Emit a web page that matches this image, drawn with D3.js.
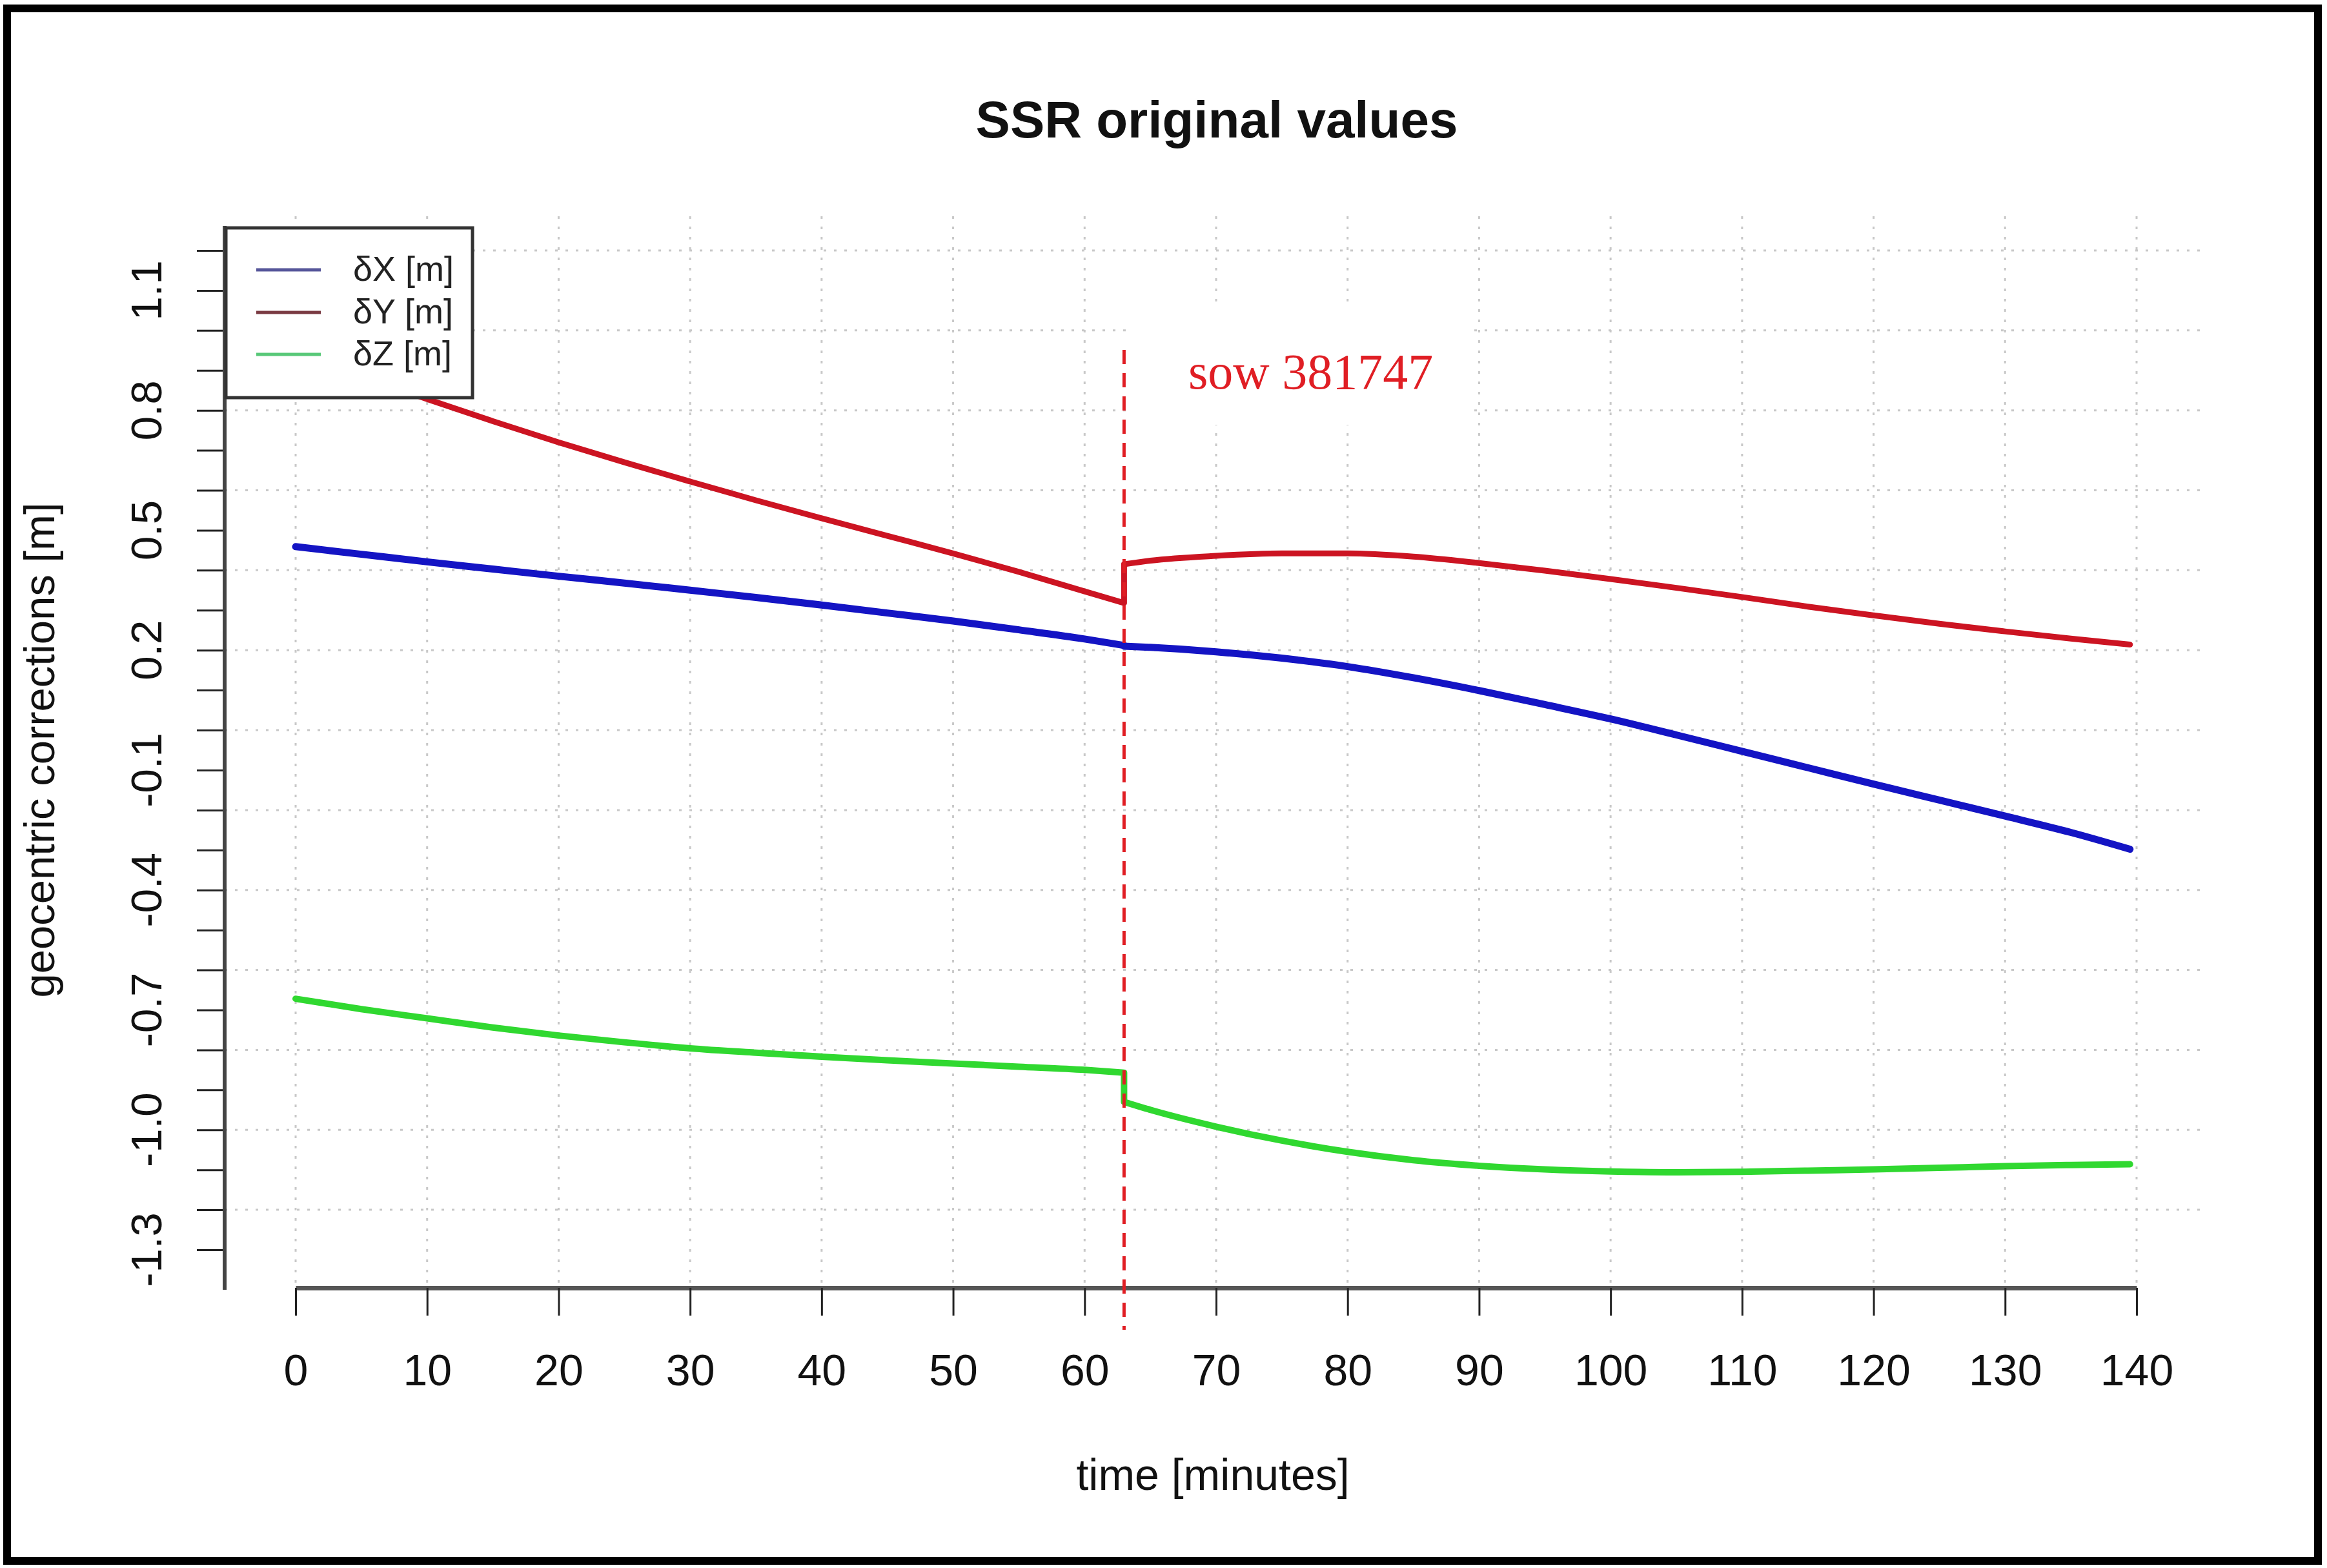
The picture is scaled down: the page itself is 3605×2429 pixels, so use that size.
<!DOCTYPE html>
<html>
<head>
<meta charset="utf-8">
<script src="https://cdn.jsdelivr.net/npm/d3@7"></script>
<style>
  html, body { margin: 0; padding: 0; background: #ffffff; }
  svg { display: block; }
</style>
</head>
<body>
<div id="chart"></div>
<script>
// ---------------- data ----------------
const chartTitle = "SSR original values";
const xTitle = "time [minutes]";
const yTitle = "geocentric corrections [m]";
const seriesNames = ["δX [m]", "δY [m]", "δZ [m]"];
const seriesColors = ["#1414c4", "#cc1422", "#30d830"];
const legendColors = ["#56569a", "#7a3a42", "#58c878"];

// before the jump (minutes 0 .. 63)
const minutesPre = [0, 5, 10, 15, 20, 25, 30, 35, 40, 45, 50, 55, 60, 63];
const dXPre = [0.459, 0.440, 0.421, 0.403, 0.385, 0.368, 0.350, 0.332, 0.313, 0.293, 0.273, 0.251, 0.228, 0.212];
const dYPre = [0.945, 0.886, 0.828, 0.773, 0.720, 0.670, 0.622, 0.575, 0.530, 0.486, 0.442, 0.396, 0.347, 0.318];
const dZPre = [-0.672, -0.698, -0.721, -0.744, -0.764, -0.781, -0.796, -0.807, -0.817, -0.826, -0.834, -0.842, -0.850, -0.857];

// after the jump (minutes 63 .. 139.5)
const minutesPost = [63, 65, 70, 75, 80, 85, 90, 95, 100, 105, 110, 115, 120, 125, 130, 135, 139.5];
const dXPost = [0.210, 0.207, 0.196, 0.180, 0.159, 0.131, 0.099, 0.064, 0.028, -0.012, -0.053, -0.094, -0.135, -0.175, -0.215, -0.256, -0.298];
const dYPost = [0.415, 0.424, 0.436, 0.442, 0.442, 0.434, 0.418, 0.399, 0.378, 0.356, 0.333, 0.309, 0.287, 0.266, 0.247, 0.229, 0.214];
const dZPost = [-0.930, -0.950, -0.992, -1.027, -1.055, -1.076, -1.090, -1.099, -1.104, -1.106, -1.105, -1.102, -1.099, -1.095, -1.091, -1.088, -1.086];

const xTickValues = [0, 10, 20, 30, 40, 50, 60, 70, 80, 90, 100, 110, 120, 130, 140];
const yMinorTicks = [1.2, 1.1, 1.0, 0.9, 0.8, 0.7, 0.6, 0.5, 0.4, 0.3, 0.2, 0.1, 0.0, -0.1, -0.2, -0.3, -0.4, -0.5, -0.6, -0.7, -0.8, -0.9, -1.0, -1.1, -1.2, -1.3];
const yLabelValues = [1.1, 0.8, 0.5, 0.2, -0.1, -0.4, -0.7, -1.0, -1.3];
const xGridValues = [0, 10, 20, 30, 40, 50, 60, 70, 80, 90, 100, 110, 120, 130, 140];
const yGridValues = [1.2, 1.0, 0.8, 0.6, 0.4, 0.2, 0.0, -0.2, -0.4, -0.6, -0.8, -1.0, -1.2];

const eventMinute = 63;
const eventLabel = "sow 381747";

// ---------------- layout ----------------
const W = 3605, H = 2429;
const FONT = "'Liberation Sans', Arial, Helvetica, sans-serif";
const plotLeft = 348, plotRight = 3418, plotTop = 335, plotBottom = 1995;

const svg = d3.select("#chart").append("svg")
  .attr("width", W).attr("height", H)
  .attr("viewBox", `0 0 ${W} ${H}`);

svg.append("rect").attr("x", 0).attr("y", 0).attr("width", W).attr("height", H).attr("fill", "#ffffff");

const x = d3.scaleLinear().domain([0, 140]).range([458, 3310]);
const y = d3.scaleLinear().domain([-1.3, 1.2]).range([1936, 388]);

// outer frame
svg.append("rect")
  .attr("x", 11).attr("y", 13).attr("width", 3580).attr("height", 2405)
  .attr("fill", "none").attr("stroke", "#000").attr("stroke-width", 12);

// title
svg.append("text")
  .attr("x", (plotLeft + plotRight) / 2 + 2).attr("y", 213)
  .attr("text-anchor", "middle")
  .attr("font-family", FONT).attr("font-weight", "bold").attr("font-size", 80)
  .attr("fill", "#111").text(chartTitle);

// grid
const grid = svg.append("g").attr("stroke", "#c8c8c8").attr("stroke-width", 3)
  .attr("stroke-dasharray", "4,12").attr("fill", "none");
grid.selectAll("line.gx").data(xGridValues).join("line").attr("class", "gx")
  .attr("x1", d => x(d)).attr("x2", d => x(d))
  .attr("y1", plotTop).attr("y2", plotBottom);
grid.selectAll("line.gy").data(yGridValues).join("line").attr("class", "gy")
  .attr("x1", plotLeft).attr("x2", plotRight)
  .attr("y1", d => y(d)).attr("y2", d => y(d));

// white patch behind the annotation (as in the reference)
svg.append("rect").attr("x", 1756).attr("y", 470).attr("width", 526).attr("height", 188).attr("fill", "#fff");

// x axis
const xAxis = d3.axisBottom(x).tickValues(xTickValues).tickSize(43).tickSizeOuter(0).tickPadding(60)
  .tickFormat(d => String(d));
const gx = svg.append("g").attr("transform", `translate(0,${plotBottom})`).call(xAxis);
gx.attr("font-family", FONT).attr("font-size", 68);
gx.select(".domain").attr("stroke", "#555").attr("stroke-width", 7);
gx.selectAll(".tick line").attr("stroke", "#222").attr("stroke-width", 3);
gx.selectAll(".tick text").attr("fill", "#111");

// y axis (ticks only, custom rotated labels)
const yAxis = d3.axisLeft(y).tickValues(yMinorTicks).tickSize(43).tickSizeOuter(0).tickFormat("");
const gy = svg.append("g").attr("transform", `translate(${plotLeft},0)`).call(yAxis);
gy.select(".domain").remove();
gy.selectAll(".tick line").attr("stroke", "#222").attr("stroke-width", 3);
svg.append("line").attr("x1", plotLeft).attr("x2", plotLeft).attr("y1", 350).attr("y2", plotBottom + 3)
  .attr("stroke", "#444").attr("stroke-width", 6);

svg.append("g").selectAll("text").data(yLabelValues).join("text")
  .attr("x", 250).attr("y", d => y(d))
  .attr("transform", d => `rotate(-90,250,${y(d)})`)
  .attr("text-anchor", "middle")
  .attr("font-family", FONT).attr("font-size", 67).attr("fill", "#111")
  .text(d => d.toFixed(1));

// axis titles
svg.append("text")
  .attr("x", (plotLeft + plotRight) / 2 - 4).attr("y", 2308)
  .attr("text-anchor", "middle")
  .attr("font-family", FONT).attr("font-size", 68).attr("fill", "#111").text(xTitle);
svg.append("text")
  .attr("x", 84).attr("y", 1162)
  .attr("transform", "rotate(-90,84,1162)")
  .attr("text-anchor", "middle")
  .attr("font-family", FONT).attr("font-size", 67).attr("fill", "#111").text(yTitle);

// series
const lineGen = d3.line().x(d => x(d[0])).y(d => y(d[1])).curve(d3.curveMonotoneX);
function seriesPath(pre, post) {
  const a = lineGen(minutesPre.map((m, i) => [m, pre[i]]));
  const b = lineGen(minutesPost.map((m, i) => [m, post[i]]));
  return a + b.replace(/^M/, "L");
}
const series = [
  { pre: dXPre, post: dXPost, color: seriesColors[0], w: 11 },
  { pre: dYPre, post: dYPost, color: seriesColors[1], w: 9 },
  { pre: dZPre, post: dZPost, color: seriesColors[2], w: 10 }
];
svg.append("g").selectAll("path").data(series).join("path")
  .attr("d", d => seriesPath(d.pre, d.post))
  .attr("fill", "none").attr("stroke", d => d.color).attr("stroke-width", d => d.w)
  .attr("stroke-linejoin", "round").attr("stroke-linecap", "round");

// event marker
svg.append("line")
  .attr("x1", x(eventMinute)).attr("x2", x(eventMinute))
  .attr("y1", 542).attr("y2", 2060)
  .attr("stroke", "#e01e24").attr("stroke-width", 5).attr("stroke-dasharray", "22,14");
svg.append("text")
  .attr("x", 1841).attr("y", 602)
  .attr("font-family", "'Liberation Serif', 'Times New Roman', serif").attr("font-size", 78)
  .attr("fill", "#e01e24").text(eventLabel);

// legend
const lg = svg.append("g");
lg.append("rect").attr("x", 350).attr("y", 353).attr("width", 382).attr("height", 263)
  .attr("fill", "#fff").attr("stroke", "#333").attr("stroke-width", 5);
const rowsY = [418, 484, 549];
lg.selectAll("line").data(seriesNames).join("line")
  .attr("x1", 397).attr("x2", 497)
  .attr("y1", (d, i) => rowsY[i]).attr("y2", (d, i) => rowsY[i])
  .attr("stroke", (d, i) => legendColors[i]).attr("stroke-width", 5);
lg.selectAll("text").data(seriesNames).join("text")
  .attr("x", 547).attr("y", (d, i) => rowsY[i] + 17)
  .attr("font-family", FONT).attr("font-size", 54).attr("fill", "#222")
  .text(d => d);
</script>
</body>
</html>
